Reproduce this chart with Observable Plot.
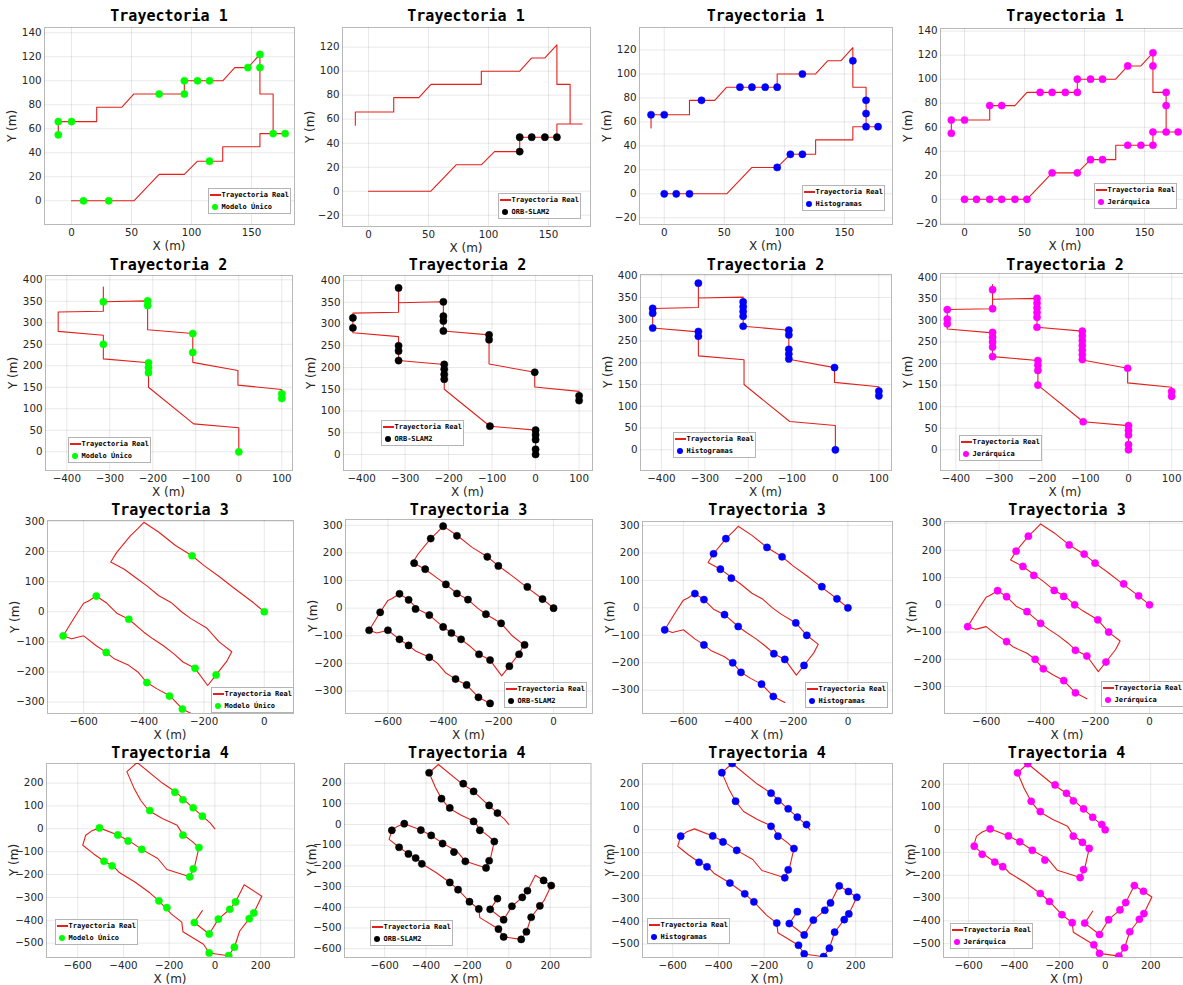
<!DOCTYPE html>
<html><head><meta charset="utf-8">
<script src="https://cdn.jsdelivr.net/npm/d3@7"></script>
<script src="https://cdn.jsdelivr.net/npm/@observablehq/plot@0.6"></script>
<style>
body{margin:0;background:#fff;}
#root{position:relative;width:1183px;height:985px;overflow:hidden;background:#fff;}
.title{position:absolute;font:bold 15px "DejaVu Sans Mono",monospace;color:#000;transform:translate(-50%,-50%);white-space:nowrap;}
.xl{position:absolute;font:12px "DejaVu Sans",sans-serif;color:#262626;transform:translate(-50%,-50%);white-space:nowrap;}
.yl{position:absolute;font:12px "DejaVu Sans",sans-serif;color:#262626;transform:translate(-50%,-50%) rotate(-90deg);white-space:nowrap;}
.leg{position:absolute;width:81px;height:24px;border:1px solid #b4b4b4;background:#fff;font:bold 7px "DejaVu Sans Mono",monospace;color:#000;}
.leg span{position:absolute;white-space:nowrap;line-height:8px;display:block;}
</style>
</head><body><div id="root"></div>
<script>
// ---------- data ----------
const titles = ["Trayectoria 1","Trayectoria 2","Trayectoria 3","Trayectoria 4"];
const methods = ["Modelo Único","ORB-SLAM2","Histogramas","Jerárquica"];
const realLabel = "Trayectoria Real";

const tray1Real = [[-11,55],[-11,66],[21,66],[21,78],[42,78],[52,89],[94,89],[94,100],[126,100],[136,111],[147,111],[157,122],[157,89],[168,89],[168,56],[178,56],[157,56],[157,45],[126,45],[126,33],[105,33],[94,22],[73,22],[52,0],[0,0]];
const tray1Modelo = [[-11,55],[-11,66],[0,66],[73,89],[94,89],[94,100],[105,100],[115,100],[147,111],[157,122],[157,111],[168,56],[178,56],[115,33],[10,0],[31,0]];
const tray1Orb = [[126,33],[126,45],[136,45],[147,45],[157,45]];
const tray1Hist = [[-11,66],[0,66],[31,78],[63,89],[73,89],[84,89],[94,89],[115,100],[157,111],[168,78],[168,67],[168,56],[178,56],[115,33],[105,33],[94,22],[0,0],[10,0],[21,0]];
const tray1Jer = [[-11,66],[-11,55],[0,66],[21,78],[31,78],[63,89],[73,89],[84,89],[94,89],[94,100],[105,100],[115,100],[136,111],[157,122],[157,111],[168,89],[168,78],[168,56],[178,56],[157,56],[157,45],[147,45],[136,45],[115,33],[105,33],[94,22],[73,22],[52,0],[42,0],[31,0],[21,0],[10,0],[0,0]];

const tray2Real = [[0,0],[0,56],[-105,65],[-210,150],[-210,207],[-315,216],[-315,271],[-420,280],[-420,325],[-315,327],[-315,383],[-315,349],[-212,351],[-212,284],[-107,275],[-107,208],[-2,189],[-2,155],[100,145],[100,125]];
const tray2Modelo = [[-315,349],[-212,351],[-212,340],[-107,275],[-107,231],[-315,250],[-210,207],[-210,196],[-210,184],[100,135],[100,124],[0,0]];
const tray2Orb = [[-315,383],[-212,351],[-212,318],[-212,307],[-212,284],[-107,275],[-107,264],[-2,189],[100,135],[100,124],[-420,314],[-420,291],[-315,250],[-315,238],[-315,216],[-210,207],[-210,196],[-210,184],[-210,173],[-105,65],[0,56],[0,45],[0,34],[0,12],[0,0]];
const tray2Hist = [[-315,383],[-420,325],[-420,314],[-420,280],[-212,340],[-212,329],[-212,318],[-212,307],[-212,284],[-315,272],[-315,261],[-107,275],[-107,264],[-107,231],[-107,220],[-107,209],[-2,189],[100,135],[100,124],[0,0]];
const tray2Jer = [[-315,371],[-315,327],[-420,325],[-420,303],[-420,292],[-212,351],[-212,340],[-212,329],[-212,318],[-212,307],[-212,284],[-315,272],[-315,261],[-315,250],[-315,238],[-315,216],[-107,275],[-107,264],[-107,253],[-107,242],[-107,231],[-107,220],[-107,209],[-2,189],[-210,207],[-210,196],[-210,184],[-210,150],[-105,65],[100,135],[100,124],[0,56],[0,45],[0,34],[0,12],[0,0]];

const tray3Real = [[0,0],[-40,33],[-100,78],[-150,117],[-200,153],[-240,186],[-295,220],[-350,264],[-400,297],[-420,276],[-445,252],[-490,197],[-510,165],[-465,141],[-420,108],[-390,86],[-350,53],[-310,31],[-275,0],[-245,-22],[-190,-55],[-150,-100],[-108,-133],[-125,-165],[-160,-210],[-188,-245],[-230,-188],[-270,-167],[-300,-140],[-335,-113],[-370,-90],[-400,-68],[-450,-25],[-490,-5],[-525,30],[-558,52],[-585,35],[-600,28],[-628,-15],[-668,-80],[-640,-90],[-600,-80],[-558,-113],[-525,-135],[-500,-155],[-450,-178],[-420,-200],[-390,-235],[-355,-257],[-315,-278],[-272,-323],[-230,-345]];
const tray3Modelo = [[0,0],[-240,186],[-558,52],[-450,-25],[-668,-80],[-525,-135],[-230,-188],[-160,-210],[-390,-235],[-315,-280],[-272,-323]];
const tray3Orb = [[0,0],[-40,33],[-95,77],[-200,153],[-240,186],[-350,262],[-400,297],[-445,252],[-505,163],[-465,141],[-390,86],[-350,53],[-310,31],[-245,-22],[-190,-55],[-105,-133],[-125,-167],[-160,-210],[-230,-188],[-270,-167],[-335,-113],[-370,-90],[-400,-68],[-450,-25],[-500,-3],[-525,30],[-558,52],[-628,-15],[-668,-80],[-600,-80],[-558,-113],[-525,-135],[-450,-178],[-355,-257],[-315,-278],[-272,-323],[-230,-345]];
const tray3Hist = [[0,0],[-40,33],[-95,77],[-240,186],[-295,220],[-445,252],[-490,197],[-465,141],[-425,108],[-190,-55],[-150,-100],[-160,-210],[-230,-188],[-270,-167],[-400,-68],[-450,-25],[-525,30],[-558,52],[-668,-80],[-525,-135],[-420,-200],[-390,-235],[-315,-278],[-272,-323]];
const tray3Jer = [[0,0],[-40,33],[-95,77],[-200,153],[-240,186],[-295,220],[-445,252],[-490,197],[-465,141],[-425,108],[-350,53],[-315,31],[-275,0],[-190,-55],[-150,-100],[-160,-210],[-230,-188],[-272,-167],[-400,-68],[-450,-25],[-525,30],[-558,52],[-668,-80],[-525,-135],[-420,-200],[-390,-235],[-315,-278],[-272,-323]];

const tray4Real = [[0,0],[-20,25],[-60,60],[-100,95],[-170,160],[-230,200],[-340,290],[-385,250],[-355,180],[-325,125],[-290,80],[-230,45],[-165,15],[-140,-25],[-100,-55],[-70,-82],[-90,-170],[-110,-210],[-210,-178],[-250,-130],[-320,-90],[-375,-53],[-425,-27],[-505,4],[-540,-10],[-565,-28],[-578,-72],[-530,-110],[-485,-142],[-445,-162],[-420,-190],[-350,-233],[-285,-280],[-245,-315],[-190,-373],[-145,-408],[-140,-450],[-50,-505],[-25,-543],[60,-555],[85,-518],[108,-448],[150,-393],[170,-368],[205,-295],[128,-245],[90,-320],[65,-352],[15,-395],[-25,-460],[-90,-410],[-55,-358]];
const tray4Modelo = [[-175,160],[-140,127],[-95,92],[-55,55],[-285,80],[-140,-28],[-70,-82],[-95,-175],[-110,-210],[-505,4],[-425,-27],[-380,-53],[-320,-90],[-485,-142],[-450,-162],[-245,-315],[-210,-345],[-90,-410],[-25,-460],[15,-395],[65,-352],[90,-320],[170,-368],[150,-393],[85,-518],[60,-555],[-25,-543]];
const tray4Orb = [[-385,250],[-220,197],[-170,160],[-95,92],[-55,55],[-325,125],[-285,80],[-170,15],[-140,-28],[-70,-82],[-95,-175],[-110,-210],[-210,-178],[-265,-133],[-320,-92],[-375,-53],[-425,-27],[-505,4],[-565,-28],[-530,-110],[-485,-142],[-450,-162],[-420,-190],[-285,-280],[-245,-315],[-190,-373],[-145,-408],[-55,-358],[-90,-410],[-25,-460],[15,-395],[65,-352],[90,-320],[168,-270],[205,-295],[150,-393],[108,-448],[85,-518],[60,-555],[-25,-543],[-50,-505]];
const tray4Hist = [[-340,290],[-385,250],[-325,125],[-170,160],[-140,127],[-95,92],[-55,55],[-15,23],[-170,15],[-140,-28],[-70,-82],[-95,-175],[-110,-210],[-565,-28],[-425,-27],[-380,-53],[-320,-90],[-485,-142],[-450,-162],[-350,-233],[-285,-280],[-245,-315],[-145,-408],[-55,-358],[-90,-410],[-25,-460],[15,-395],[65,-352],[90,-320],[128,-245],[168,-270],[205,-295],[170,-368],[150,-393],[108,-448],[85,-518],[60,-555],[-25,-543],[-50,-505]];
const tray4Jer = [[-340,290],[-385,250],[-325,125],[-285,80],[-220,197],[-170,160],[-140,127],[-95,92],[-55,55],[-15,23],[0,0],[-140,-28],[-100,-55],[-70,-82],[-95,-175],[-110,-210],[-505,4],[-425,-27],[-375,-53],[-320,-90],[-265,-133],[-575,-72],[-540,-108],[-485,-142],[-450,-162],[-285,-280],[-245,-315],[-190,-373],[-145,-408],[-90,-410],[-25,-460],[15,-395],[65,-352],[90,-320],[128,-245],[168,-270],[170,-368],[150,-393],[108,-448],[85,-518],[60,-555],[-25,-543],[-50,-505]];

const realPaths = [tray1Real, tray2Real, tray3Real, tray4Real];
const estimates = [
  [tray1Modelo, tray1Orb, tray1Hist, tray1Jer],
  [tray2Modelo, tray2Orb, tray2Hist, tray2Jer],
  [tray3Modelo, tray3Orb, tray3Hist, tray3Jer],
  [tray4Modelo, tray4Orb, tray4Hist, tray4Jer]
];
const xTickLabels = [[0,50,100,150],[-400,-300,-200,-100,0,100],[-800,-600,-400,-200,0],[-600,-400,-200,0,200]];
const yTickLabels = [[-20,0,20,40,60,80,100,120,140],[0,50,100,150,200,250,300,350,400],[-300,-200,-100,0,100,200,300],[-600,-500,-400,-300,-200,-100,0,100,200]];

// ---------- layout / style ----------
const methodColors = ["#00ff00","#000000","#0000ff","#ff00ff"];
const lineColor = "#e3201b";
// [frameLeft, frameRight, frameTop, frameBottom, xMin, xMax, yMin, yMax, legendLeft, legendTop]
const panels = [
  [44,294,27,224,-22.5,185.8,-19.75,144.4,208,188],
  [342,590,27,226,-21.7,185,-29.4,136.4,498,193],
  [639,892,27,224,-20.6,190,-25.6,138.8,802,185],
  [940,1190,28,224,-20,188.3,-21,142.2,1094,183],
  [45,292,275,470,-449.5,124.9,-43.5,410,68,437],
  [343,592,275,470,-441.6,130.8,-36.8,411.5,381,420],
  [640,891,274,470,-448,129,-47.6,403,673,432],
  [940,1190,273,470,-435.7,143.7,-48,408.6,959,435],
  [47,293,520,713,-720,97,-338,303,211,687],
  [345,592,519,713,-753.6,141,-381.5,321,504,682],
  [642,892,521,713,-749,162.6,-385,314.6,805,682],
  [944,1190,521,713,-753,150.6,-399,306,1101,681],
  [46,294,763,957,-736.6,348,-563,285.6,55,919],
  [343.5,590,763,957,-793.7,397,-642.5,294.7,370,920],
  [642,892,763,957,-732,361,-558.6,290,647,918],
  [943,1190,763,957,-710,374.6,-561,291,950,923]
];
const titleY = [16,265,510,753];

const root = document.getElementById("root");
const ml = 46, mr = 4, mt = 4, mb = 30;

function addDiv(cls, text, x, y) {
  const d = document.createElement("div");
  d.className = cls; d.textContent = text;
  d.style.left = x + "px"; d.style.top = y + "px";
  root.appendChild(d);
  return d;
}

for (let r = 0; r < 4; r++) {
  for (let c = 0; c < 4; c++) {
    const [fx0, fx1, fy0, fy1, x0, x1, y0, y1, lx, ly] = panels[r * 4 + c];
    const xt = xTickLabels[r].filter(v => v >= x0 && v <= x1);
    const yt = yTickLabels[r].filter(v => v >= y0 && v <= y1);
    const color = methodColors[c];
    const svg = Plot.plot({
      width: fx1 - fx0 + ml + mr,
      height: fy1 - fy0 + mt + mb,
      marginLeft: ml, marginRight: mr, marginTop: mt, marginBottom: mb,
      style: {fontFamily: "DejaVu Sans, sans-serif", fontSize: "10.3px", color: "#262626", background: "transparent", overflow: "visible"},
      x: {domain: [x0, x1]},
      y: {domain: [y0, y1]},
      marks: [
        Plot.gridX(xt, {stroke: "#000", strokeOpacity: 0.09}),
        Plot.gridY(yt, {stroke: "#000", strokeOpacity: 0.09}),
        Plot.line(realPaths[r], {x: d => d[0], y: d => d[1], stroke: lineColor, strokeWidth: 1.1, clip: true}),
        Plot.dot(estimates[r][c], {x: d => d[0], y: d => d[1], r: 3.6, fill: color, stroke: color, strokeWidth: 0.5, clip: true}),
        Plot.frame({stroke: "#262626", strokeOpacity: 0.33}),
        Plot.axisX({ticks: xt, tickSize: 0, tickPadding: 4, label: null}),
        Plot.axisY({ticks: yt, tickSize: 0, tickPadding: 3, label: null})
      ]
    });
    svg.style.position = "absolute";
    svg.style.left = (fx0 - ml) + "px";
    svg.style.top = (fy0 - mt) + "px";
    root.appendChild(svg);

    const cx = (fx0 + fx1) / 2, cy = (fy0 + fy1) / 2;
    addDiv("title", titles[r], cx, titleY[r]);
    addDiv("xl", "X (m)", cx, fy1 + 22);
    addDiv("yl", "Y (m)", fx0 - 32, cy);

    // legend
    const leg = document.createElement("div");
    leg.className = "leg";
    leg.style.left = lx + "px"; leg.style.top = ly + "px";
    const ln = document.createElement("span");
    ln.style.cssText = `left:1px;top:5px;width:11px;height:0;border-top:2px solid ${lineColor};`;
    leg.appendChild(ln);
    const t1 = document.createElement("span");
    t1.style.cssText = "left:12.5px;top:1.8px;";
    t1.textContent = realLabel;
    leg.appendChild(t1);
    const mk = document.createElement("span");
    mk.style.cssText = `left:2.5px;top:15px;width:6px;height:6px;border-radius:50%;background:${color};`;
    leg.appendChild(mk);
    const t2 = document.createElement("span");
    t2.style.cssText = "left:12.5px;top:14.3px;";
    t2.textContent = methods[c];
    leg.appendChild(t2);
    root.appendChild(leg);
  }
}
</script>
</body></html>
